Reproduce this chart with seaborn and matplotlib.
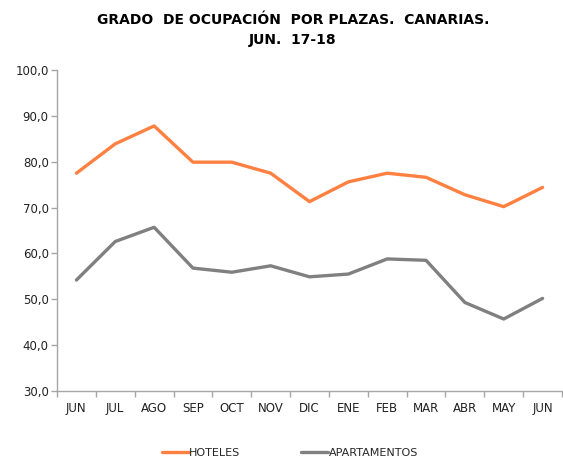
import pandas as pd
import seaborn as sns
import matplotlib.pyplot as plt
import numpy as np
from matplotlib.ticker import FixedLocator, FuncFormatter
from matplotlib.lines import Line2D

# Data
months = ['JUN', 'JUL', 'AGO', 'SEP', 'OCT', 'NOV', 'DIC', 'ENE', 'FEB', 'MAR', 'ABR', 'MAY', 'JUN']
hoteles = [77.5, 83.9, 87.8, 79.9, 79.9, 77.5, 71.3, 75.6, 77.5, 76.6, 72.8, 70.2, 74.4]
apartamentos = [54.2, 62.6, 65.7, 56.8, 55.9, 57.3, 54.9, 55.5, 58.8, 58.5, 49.3, 45.7, 50.2]

df = pd.DataFrame({
    'pos': list(range(len(months))) * 2,
    'valor': hoteles + apartamentos,
    'serie': ['HOTELES'] * len(months) + ['APARTAMENTOS'] * len(months),
})

sns.set_style('white')
plt.rcParams['font.family'] = ['DejaVu Sans']

fig = plt.figure(figsize=(5.63, 4.59), dpi=100)
ax = fig.add_axes([57 / 563, 1 - 391 / 459, 505 / 563, 321 / 459])

sns.lineplot(data=df, x='pos', y='valor', hue='serie',
             palette={'HOTELES': '#FF8040', 'APARTAMENTOS': '#808080'},
             linewidth=2.4, ax=ax, legend=False)

ax.set_xlim(-0.5, len(months) - 0.5)
ax.set_ylim(30, 100)
ax.set_yticks(np.arange(30, 101, 10))
ax.yaxis.set_major_formatter(FuncFormatter(lambda v, p: f'{v:.1f}'.replace('.', ',')))
ax.set_xticks(range(len(months)))
ax.set_xticklabels(months)
ax.xaxis.set_minor_locator(FixedLocator(np.arange(-0.5, len(months), 1)))
ax.tick_params(axis='x', which='major', length=0, pad=8, labelsize=8.5, colors='#222222')
ax.tick_params(axis='x', which='minor', length=4, width=1, color='#A6A6A6', bottom=True)
ax.tick_params(axis='y', length=4, width=1, color='#A6A6A6', left=True, labelsize=8.5, labelcolor='#222222', pad=2)
ax.set_xlabel('')
ax.set_ylabel('')
for s in ['top', 'right']:
    ax.spines[s].set_visible(False)
for s in ['left', 'bottom']:
    ax.spines[s].set_color('#A6A6A6')
    ax.spines[s].set_linewidth(1)

fig.text(0.52, 1 - 20 / 459, 'GRADO  DE OCUPACIÓN  POR PLAZAS.  CANARIAS.', ha='center', va='center',
         fontsize=10, fontweight='bold', family='DejaVu Sans', color='black')
fig.text(0.52, 1 - 40 / 459, 'JUN.  17-18', ha='center', va='center',
         fontsize=10, fontweight='bold', family='DejaVu Sans', color='black')

# legend
handles = [Line2D([], [], color='#FF8040', lw=2.4), Line2D([], [], color='#808080', lw=2.4)]
fig.legend(handles, ['HOTELES', 'APARTAMENTOS'], loc='center', bbox_to_anchor=(0.515, 1 - 453 / 459),
           ncol=2, frameon=False, fontsize=8, handlelength=2.4, handletextpad=0.05, columnspacing=5.5)

fig.savefig('out.png', dpi=100)
